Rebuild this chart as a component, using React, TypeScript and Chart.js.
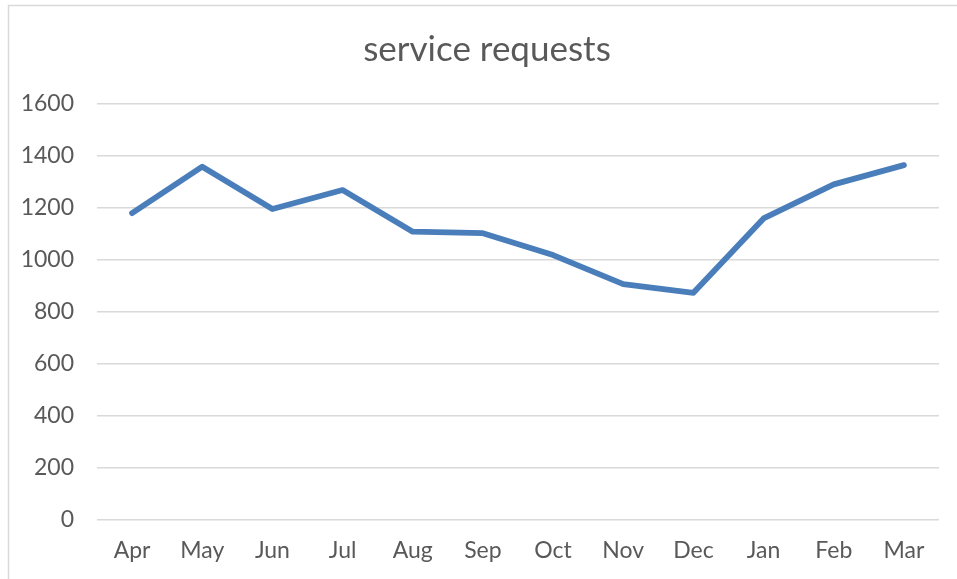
import React, { useEffect, useRef } from "react";
import { Chart, registerables } from "chart.js";

Chart.register(...registerables);

const months = ["Apr", "May", "Jun", "Jul", "Aug", "Sep", "Oct", "Nov", "Dec", "Jan", "Feb", "Mar"];
const requests = [1180, 1359, 1196, 1269, 1109, 1103, 1019, 907, 874, 1160, 1291, 1365];
const yMin = 0;
const yMax = 1600;
const yStep = 200;
const chartTitle = "service requests";

const FONT = "Lato, 'Open Sans', sans-serif";

const borderPlugin = {
  id: "outerBorder",
  afterLayout(chart: any) {
    const tb = chart.titleBlock;
    if (tb) {
      tb.left = 35;
    }
  },
  beforeDraw(chart: any) {
    const ctx = chart.ctx;
    ctx.save();
    ctx.fillStyle = "#ffffff";
    ctx.fillRect(0, 0, chart.width, chart.height);
    ctx.strokeStyle = "#d9d9d9";
    ctx.lineWidth = 1.5;
    ctx.strokeRect(8.5, 5.5, chart.width + 20, chart.height + 20);
    ctx.restore();
  },
};

export default function App() {
  const ref = useRef<HTMLCanvasElement | null>(null);
  useEffect(() => {
    if (!ref.current) return;
    const chart = new Chart(ref.current, {
      type: "line",
      data: {
        labels: months,
        datasets: [
          {
            label: chartTitle,
            data: requests,
            borderColor: "#4a7ebb",
            backgroundColor: "#4a7ebb",
            borderWidth: 5.8,
            pointRadius: 0,
            tension: 0,
            borderCapStyle: "round",
            borderJoinStyle: "round",
          },
        ],
      },
      options: {
        animation: false,
        responsive: true,
        maintainAspectRatio: false,
        layout: { padding: { left: 8, right: 18, top: 0, bottom: 0 } },
        plugins: {
          legend: { display: false },
          tooltip: { enabled: false },
          title: {
            display: true,
            text: chartTitle,
            color: "#595959",
            font: { family: FONT, size: 35, weight: "normal" },
            padding: { top: 29, bottom: 33 },
          },
        },
        scales: {
          x: {
            offset: true,
            grid: { display: false, drawTicks: false },
            border: { display: false },
            ticks: {
              color: "#595959",
              font: { family: FONT, size: 23 },
              padding: 17,
              maxRotation: 0,
              autoSkip: false,
            },
            afterFit: (s: any) => {
              s.height = 59;
            },
          },
          y: {
            min: yMin,
            max: yMax,
            grid: { color: "#d9d9d9", lineWidth: 1.5, drawTicks: false },
            border: { display: false },
            ticks: {
              stepSize: yStep,
              color: "#595959",
              font: { family: FONT, size: 23 },
              padding: 23,
              callback: (v: any) => String(v),
            },
            afterFit: (s: any) => {
              s.width = 89;
            },
          },
        },
      },
      plugins: [borderPlugin],
    });
    return () => chart.destroy();
  }, []);
  return (
    <div style={{ position: "fixed", left: 0, top: 0, width: 957, height: 579 }}>
      <canvas ref={ref} />
    </div>
  );
}
